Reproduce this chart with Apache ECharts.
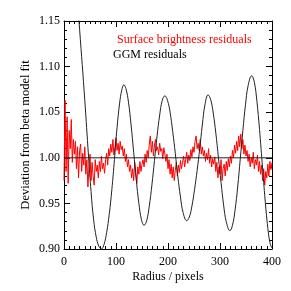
<!DOCTYPE html>
<html>
<head>
<meta charset="utf-8">
<script src="https://cdn.jsdelivr.net/npm/echarts@6/dist/echarts.min.js"></script>
<style>html,body{margin:0;padding:0;background:#fff;}#chart{width:291px;height:291px;}</style>
</head>
<body>
<div id="chart"></div>
<script>
// GGM residuals (black curve)
var ggmRadius = [0,10,20,30,40,47,52,57,62,67,72,77,82,87,92,97,102,107,111,115,119,124,129,134,139,144,149,154,159,164,169,174,179,184,189,194,199,204,209,214,219,224,229,236,241,246,251,256,261,266,271,277,282,287,292,297,302,307,312,319,324,329,334,339,344,349,354,361,366,371,376,381,386,391,396,400];
var ggmValue = [1.37,1.295,1.218,1.141,1.063,1.003,0.963,0.932,0.913,0.903,0.900,0.905,0.918,0.938,0.965,0.998,1.033,1.060,1.074,1.080,1.076,1.061,1.036,1.006,0.976,0.950,0.932,0.926,0.931,0.947,0.970,0.997,1.024,1.047,1.063,1.068,1.063,1.050,1.029,1.005,0.979,0.957,0.940,0.931,0.935,0.947,0.965,0.986,1.010,1.036,1.058,1.069,1.064,1.049,1.027,1.000,0.973,0.948,0.930,0.920,0.926,0.943,0.968,0.999,1.030,1.058,1.079,1.090,1.083,1.062,1.031,0.995,0.959,0.928,0.907,0.901];

// Surface brightness residuals (red), radius 0..400 step 2
var sbStep = 2;
var sbValue = [
0.975,1.063,0.985,1.045,0.972,1.030,
1.010,1.042,0.995,1.020,1.004,
1.018,0.988,1.012,0.978,1.008,1.015,0.985,1.005,0.992,1.012,
0.982,0.998,0.968,0.990,1.004,0.975,0.995,0.980,0.970,0.998,0.985,0.992,0.978,
0.996,0.985,1.002,0.988,0.994,0.983,
0.998,1.005,0.992,1.010,1.002,1.015,1.006,1.020,1.003,1.012,1.022,1.008,1.016,1.004,1.018,1.009,1.013,
1.002,1.010,0.996,1.004,0.990,0.998,0.985,
0.992,0.978,0.988,0.975,0.995,0.984,0.972,0.990,0.982,0.996,0.985,0.993,
0.998,0.990,1.004,0.995,1.008,1.000,
1.015,1.024,1.006,1.018,1.002,1.014,1.020,1.008,1.012,1.003,1.016,1.007,1.010,0.999,1.011,1.004,
0.996,1.004,0.988,0.998,0.982,0.993,0.978,0.990,0.975,0.986,0.995,0.980,0.992,0.984,0.997,0.988,
0.995,1.002,0.990,0.998,1.006,0.994,1.003,0.997,1.009,1.001,
1.012,1.006,1.018,1.024,1.010,1.016,1.008,1.020,1.004,1.012,
1.002,1.008,0.996,1.005,0.998,1.010,0.994,1.003,0.990,0.999,0.993,1.001,
0.985,0.995,0.978,0.990,0.982,0.998,0.975,0.988,0.993,0.980,0.996,0.986,0.999,0.990,
1.002,0.994,1.008,1.000,1.014,1.005,1.018,1.008,1.024,1.012,1.026,
1.010,1.020,1.004,1.014,1.002,
1.008,0.996,1.004,0.990,1.000,0.994,1.006,0.988,0.998,0.992,1.003,0.985,0.996,
0.982,0.992,0.975,0.988,0.970,0.985,0.978,0.993,0.980,0.996,0.987,0.995
];

var refLevel = 1.00;
var xMin = 0, xMax = 400, xInterval = 100;
var yMin = 0.90, yMax = 1.15, yInterval = 0.05;
var legendTexts = ["Surface brightness residuals", "GGM residuals"];
var xTitle = "Radius / pixels";
var yTitle = "Deviation from beta model fit";

var FONT = "'Liberation Serif','Times New Roman',serif";
var ggmData = ggmRadius.map(function (r, i) { return [r, ggmValue[i]]; });
var sbData = sbValue.map(function (v, i) { return [i * sbStep, v]; });

function mkX(pos, show) {
  return {
    type: 'value', position: pos, min: xMin, max: xMax, interval: xInterval,
    name: show ? xTitle : '', nameLocation: 'middle', nameGap: 22, nameMoveOverlap: false,
    nameTextStyle: { fontFamily: FONT, fontSize: 12, color: '#000' },
    axisLine: { show: true, onZero: false, lineStyle: { color: '#000', width: 1 } },
    axisTick: { show: true, inside: true, length: 6, lineStyle: { color: '#000' } },
    minorTick: { show: true, splitNumber: 10, length: 3, lineStyle: { color: '#000' } },
    axisLabel: { show: show, margin: 7, fontFamily: FONT, fontSize: 12, color: '#000' },
    splitLine: { show: false }, minorSplitLine: { show: false }
  };
}
function mkY(pos, show) {
  return {
    type: 'value', position: pos, min: yMin, max: yMax, interval: yInterval,
    name: show ? yTitle : '', nameLocation: 'middle', nameGap: 32, nameMoveOverlap: false,
    nameTextStyle: { fontFamily: FONT, fontSize: 12.5, color: '#000' },
    axisLine: { show: true, onZero: false, lineStyle: { color: '#000', width: 1 } },
    axisTick: { show: true, inside: true, length: 6, lineStyle: { color: '#000' } },
    minorTick: { show: true, splitNumber: 5, length: 3, lineStyle: { color: '#000' } },
    axisLabel: { show: show, margin: 4, fontFamily: FONT, fontSize: 12, color: '#000',
      formatter: function (v) { return v.toFixed(2); } },
    splitLine: { show: false }, minorSplitLine: { show: false }
  };
}

var chart = echarts.init(document.getElementById('chart'), null, { renderer: 'canvas' });
chart.setOption({
  animation: false,
  backgroundColor: '#fff',
  grid: { left: 64, right: 19, top: 21, bottom: 42 },
  xAxis: [mkX('bottom', true), mkX('top', false)],
  yAxis: [mkY('left', true), mkY('right', false)],
  graphic: [
    { type: 'text', left: 117, top: 34, style: { text: legendTexts[0], fill: '#ff0000', font: '12px ' + FONT } },
    { type: 'text', left: 113, top: 49, style: { text: legendTexts[1], fill: '#000', font: '12px ' + FONT } }
  ],
  series: [
    { type: 'line', data: sbData, showSymbol: false, clip: true,
      lineStyle: { color: '#ff0000', width: 1 }, z: 2 },
    { type: 'line', data: ggmData, showSymbol: false, smooth: 0.4, clip: true,
      lineStyle: { color: '#222', width: 1 }, z: 3 },
    { type: 'line', data: [[xMin, refLevel], [xMax, refLevel]], showSymbol: false,
      lineStyle: { color: '#222', width: 1 }, z: 4 }
  ]
});
</script>
</body>
</html>
